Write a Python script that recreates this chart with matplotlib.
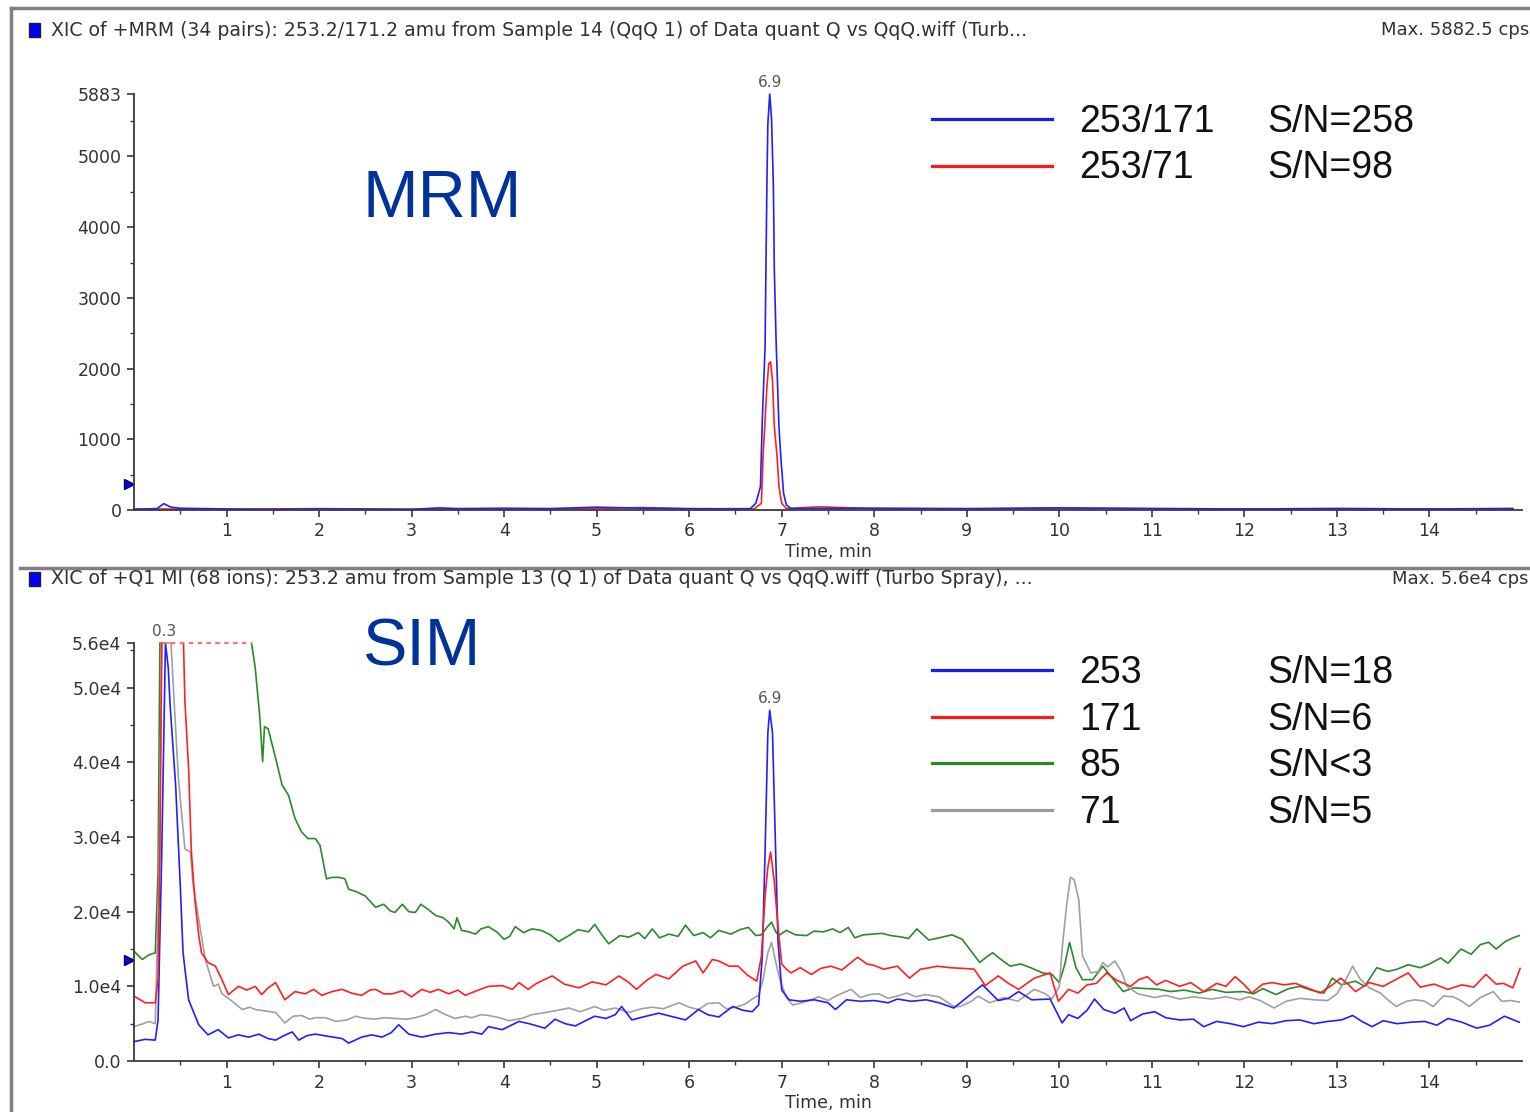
import numpy as np
import matplotlib
matplotlib.use("Agg")
import matplotlib.pyplot as plt
from matplotlib.lines import Line2D
from matplotlib.patches import Rectangle

nan = np.nan

# --- MRM panel (top) ---
mrm_blue_t = [0.0, 0.25, 0.32, 0.4, 0.5, 1.0, 1.5, 2.0, 3.0, 3.3, 3.5, 4.0, 4.5, 5.0,
              5.5, 6.0, 6.5, 6.66, 6.72, 6.77, 6.79, 6.82, 6.83, 6.84, 6.85, 6.87,
              6.89, 6.91, 6.92, 6.94, 6.97, 6.99, 7.02, 7.05, 7.1, 8.0, 9.0, 10.0,
              11.0, 12.0, 13.0, 14.0, 14.9]
mrm_blue_v = [10, 20, 90, 40, 25, 15, 10, 15, 10, 30, 20, 25, 20, 40,
              25, 20, 15, 20, 94, 330, 1270, 2306, 3506, 4635, 5459, 5883,
              5530, 4565, 3388, 2353, 1177, 753, 235, 71, 20, 25, 20, 30,
              20, 15, 20, 15, 20]
mrm_red_t = [0.0, 1.0, 2.0, 3.0, 4.0, 5.0, 5.5, 6.0, 6.5, 6.7, 6.78, 6.8, 6.82,
             6.84, 6.86, 6.88, 6.9, 6.92, 6.95, 6.97, 7.0, 7.05, 7.4, 8.0, 9.0,
             10.0, 11.0, 12.0, 13.0, 14.0, 14.9]
mrm_red_v = [15, 10, 20, 10, 15, 20, 35, 15, 20, 15, 94, 800, 1270,
             1741, 2071, 2094, 1835, 1177, 753, 330, 94, 20, 45, 20, 15,
             25, 20, 15, 20, 15, 20]
mrm_yticks = [0, 1000, 2000, 3000, 4000, 5000, 5883]
mrm_threshold = 367
mrm_peak = (6.87, 5883, "6.9")

# --- SIM panel (bottom) ---
sim_blue_t = [0.0, 0.12, 0.23, 0.26, 0.30, 0.34, 0.37, 0.39, 0.45, 0.50, 0.53, 0.59,
              0.70, 0.80, 0.91, 1.02, 1.13, 1.24, 1.35, 1.45, 1.53, 1.62, 1.71, 1.78,
              1.87, 1.96, 2.10, 2.25, 2.32, 2.46, 2.57, 2.68, 2.78, 2.86, 2.97, 3.11,
              3.26, 3.40, 3.54, 3.65, 3.76, 3.83, 3.98, 4.16, 4.27, 4.44, 4.55, 4.66,
              4.77, 4.88, 4.98, 5.10, 5.20, 5.27, 5.38, 5.50, 5.67, 5.80, 5.96, 6.10,
              6.20, 6.32, 6.47, 6.58, 6.68, 6.75, 6.79, 6.82, 6.85, 6.87, 6.90, 6.93,
              6.96, 7.00, 7.08, 7.20, 7.35, 7.50, 7.58, 7.70, 7.85, 8.00, 8.15, 8.25,
              8.40, 8.56, 8.70, 8.86, 9.00, 9.17, 9.34, 9.45, 9.56, 9.70, 9.90, 10.03,
              10.10, 10.20, 10.30, 10.38, 10.48, 10.60, 10.70, 10.77, 10.90, 11.03,
              11.15, 11.30, 11.45, 11.56, 11.70, 11.85, 11.99, 12.15, 12.30, 12.45,
              12.60, 12.75, 12.90, 13.05, 13.17, 13.27, 13.38, 13.50, 13.65, 13.80,
              13.95, 14.08, 14.20, 14.35, 14.51, 14.65, 14.81, 14.97]
sim_blue_v = [2600, 2900, 2800, 5500, 28000, 56000, 52700, 47700, 36900, 23500, 14500, 8200,
              4850, 3500, 4200, 3100, 3500, 3200, 3600, 3000, 2800, 3400, 3900, 2800,
              3400, 3600, 3300, 3000, 2400, 3200, 3500, 3200, 3800, 4850, 3600, 3200,
              3600, 3800, 3600, 3900, 3600, 4600, 4200, 5300, 5000, 4400, 5600, 5000,
              4700, 5400, 6000, 5700, 6200, 7300, 5500, 5900, 6400, 6000, 5500, 6900,
              6200, 5900, 7300, 6800, 6600, 7500, 14000, 28000, 44000, 47000, 44000, 30000,
              16000, 9500, 8200, 8000, 8200, 7800, 6900, 8200, 8000, 8100, 7800, 8300,
              8000, 8200, 7800, 7100, 8500, 10200, 8100, 8400, 9300, 8200, 8300, 5100,
              6200, 5700, 6800, 8300, 6900, 6400, 7100, 5400, 6300, 6600,
              5800, 5500, 5600, 4600, 5300, 5000, 4600, 5200, 5000, 5400,
              5500, 5000, 5300, 5500, 6100, 5300, 4600, 5400, 5000, 5200,
              5300, 4800, 5700, 5200, 4400, 4800, 6000, 5200]

sim_red_t = [0.0, 0.12, 0.23, 0.26, 0.28, 0.30, 0.40, 0.535, 0.55, 0.59, 0.62, 0.66,
             0.70, 0.73, 0.80, 0.88, 0.95, 1.02, 1.13, 1.22, 1.31, 1.38, 1.45, 1.53,
             1.63, 1.74, 1.85, 1.94, 2.03, 2.14, 2.25, 2.35, 2.46, 2.55, 2.61, 2.70,
             2.79, 2.90, 3.00, 3.11, 3.20, 3.29, 3.40, 3.50, 3.58, 3.70, 3.83, 3.98,
             4.09, 4.16, 4.26, 4.35, 4.52, 4.65, 4.81, 4.95, 5.10, 5.24, 5.35, 5.43,
             5.54, 5.64, 5.78, 5.93, 6.07, 6.15, 6.25, 6.32, 6.43, 6.53, 6.63, 6.73,
             6.78, 6.82, 6.85, 6.88, 6.92, 6.96, 7.00, 7.05, 7.10, 7.20, 7.32, 7.42,
             7.53, 7.65, 7.82, 7.92, 8.00, 8.10, 8.25, 8.38, 8.50, 8.60, 8.68, 8.82,
             8.97, 9.08, 9.20, 9.34, 9.45, 9.56, 9.73, 9.90, 9.99, 10.10, 10.20, 10.30,
             10.40, 10.51, 10.62, 10.77, 10.86, 10.95, 11.05, 11.15, 11.30, 11.42, 11.56,
             11.70, 11.80, 11.90, 12.00, 12.08, 12.20, 12.30, 12.43, 12.55, 12.70, 12.82,
             12.95, 13.04, 13.12, 13.20, 13.35, 13.50, 13.62, 13.77, 13.90, 14.05, 14.20,
             14.35, 14.48, 14.61, 14.72, 14.80, 14.90, 14.98]
sim_red_v = [8700, 7800, 7800, 11100, 28000, 56000, nan, 56000, 48200, 39200, 28000, 21300,
             16800, 14500, 13200, 12700, 10900, 8900, 10000, 9500, 10000, 8900, 9800, 10500,
             8200, 9300, 9000, 9600, 8800, 9300, 9600, 9100, 8800, 9500, 9600, 9000,
             9000, 9400, 8600, 9600, 9200, 9600, 9000, 9500, 8800, 9400, 10000, 10100,
             9600, 10500, 9600, 10400, 11400, 10300, 9800, 10600, 10200, 11400, 10500, 9600,
             10800, 11600, 11000, 12700, 13400, 11800, 13600, 13400, 12700, 12700, 11500, 10700,
             14000, 22000, 26000, 28000, 24000, 18000, 13000, 12300, 11800, 12500, 11600, 12400,
             12700, 12200, 13900, 13000, 12800, 12300, 12700, 11100, 12300, 12500, 12700, 12500,
             12400, 12300, 10100, 11400, 10400, 9600, 11100, 11800, 8000, 9600, 9100, 10200,
             10400, 11800, 10800, 10000, 10900, 11300, 10200, 10800, 10000, 10500, 9300,
             10400, 10000, 11300, 10200, 9100, 10300, 10500, 10200, 10400, 9700, 9100,
             10200, 11100, 10300, 9300, 10500, 10000, 10800, 11800, 9900, 10300, 9600,
             10200, 9900, 11600, 10300, 10400, 9800, 12400]

sim_green_t = [0.0, 0.09, 0.16, 0.23, 0.26, 0.28, 0.80, 1.27, 1.31, 1.36, 1.39, 1.41,
               1.45, 1.53, 1.60, 1.67, 1.74, 1.81, 1.88, 1.96, 2.01, 2.08, 2.14, 2.22,
               2.28, 2.32, 2.40, 2.50, 2.61, 2.70, 2.77, 2.82, 2.90, 2.97, 3.04, 3.10,
               3.18, 3.26, 3.34, 3.40, 3.46, 3.49, 3.54, 3.62, 3.69, 3.75, 3.83, 3.92,
               4.00, 4.06, 4.12, 4.21, 4.30, 4.40, 4.50, 4.59, 4.70, 4.80, 4.91, 4.98,
               5.05, 5.13, 5.25, 5.35, 5.45, 5.52, 5.60, 5.68, 5.78, 5.88, 5.96, 6.05,
               6.15, 6.23, 6.32, 6.45, 6.55, 6.64, 6.72, 6.78, 6.84, 6.89, 6.94, 6.98,
               7.05, 7.15, 7.27, 7.35, 7.45, 7.55, 7.63, 7.72, 7.79, 7.88, 7.98, 8.08,
               8.18, 8.30, 8.37, 8.46, 8.59, 8.70, 8.84, 8.95, 9.03, 9.14, 9.22, 9.28,
               9.38, 9.47, 9.58, 9.69, 9.82, 9.92, 10.00, 10.06, 10.11, 10.18, 10.25,
               10.36, 10.47, 10.58, 10.69, 10.80, 10.95, 11.08, 11.20, 11.35, 11.51,
               11.65, 11.80, 11.99, 12.10, 12.20, 12.34, 12.48, 12.60, 12.72, 12.86,
               12.95, 13.05, 13.20, 13.30, 13.43, 13.55, 13.65, 13.77, 13.90, 14.00,
               14.12, 14.20, 14.34, 14.45, 14.55, 14.64, 14.72, 14.82, 14.90, 14.97]
sim_green_v = [14700, 13600, 14200, 14500, 25300, 56000, nan, 56000, 52700, 46000, 40100, 44800,
               44500, 40600, 37000, 35600, 32500, 30700, 29800, 29800, 28900, 24400, 24600, 24600,
               24400, 23000, 22700, 22100, 20600, 21000, 20100, 19900, 21000, 20000, 19900, 21000,
               20300, 19500, 19200, 18600, 17700, 19200, 17500, 17300, 17000, 17700, 18000, 17300,
               16300, 16700, 18000, 17200, 17700, 17500, 16900, 16000, 16800, 17600, 17300, 18300,
               17000, 15700, 16800, 16600, 17200, 16400, 17700, 16500, 17000, 16700, 18200, 16800,
               17200, 16500, 17500, 17000, 17600, 17900, 16800, 16900, 17900, 18600, 17200, 16900,
               17500, 16900, 16800, 17400, 17300, 17700, 17200, 17900, 16500, 16900, 17000, 17100,
               16800, 16600, 16400, 17700, 16200, 16500, 16900, 16300, 15000, 13200, 14000, 14500,
               13500, 12700, 13000, 12500, 11800, 11600, 10500, 13000, 15900, 12500, 10900,
               10900, 12700, 11000, 9300, 9800, 9700, 9600, 9300, 9500, 9100,
               9600, 9200, 9300, 9000, 9700, 8900, 9700, 10000, 9500, 9100,
               11100, 10200, 10700, 10000, 12500, 12000, 12300, 12900, 12500, 13000,
               13800, 13100, 15000, 14300, 15600, 15900, 15000, 16000, 16500, 16800]

sim_gray_t = [0.0, 0.10, 0.16, 0.23, 0.27, 0.30, 0.40, 0.43, 0.48, 0.52, 0.55, 0.61,
              0.64, 0.70, 0.77, 0.86, 0.91, 0.95, 1.02, 1.10, 1.17, 1.25, 1.31, 1.42,
              1.53, 1.63, 1.72, 1.81, 1.90, 1.96, 2.07, 2.18, 2.30, 2.40, 2.46, 2.60,
              2.70, 2.82, 2.95, 3.04, 3.15, 3.26, 3.35, 3.47, 3.58, 3.65, 3.75, 3.83,
              3.95, 4.05, 4.19, 4.30, 4.45, 4.58, 4.70, 4.82, 4.98, 5.08, 5.20, 5.35,
              5.48, 5.60, 5.72, 5.89, 6.00, 6.10, 6.20, 6.32, 6.40, 6.50, 6.60, 6.68,
              6.75, 6.80, 6.85, 6.89, 6.94, 6.98, 7.05, 7.12, 7.25, 7.40, 7.50, 7.60,
              7.75, 7.85, 7.95, 8.05, 8.15, 8.25, 8.35, 8.45, 8.55, 8.70, 8.86, 8.93,
              9.05, 9.12, 9.25, 9.40, 9.55, 9.73, 9.85, 9.92, 10.00, 10.03, 10.08, 10.12,
              10.16, 10.21, 10.25, 10.34, 10.42, 10.47, 10.52, 10.60, 10.67, 10.73, 10.85,
              11.03, 11.15, 11.30, 11.45, 11.64, 11.80, 11.95, 12.05, 12.17, 12.32, 12.45,
              12.60, 12.75, 12.90, 13.00, 13.10, 13.17, 13.25, 13.35, 13.47, 13.55, 13.64,
              13.75, 13.85, 13.95, 14.04, 14.15, 14.26, 14.35, 14.43, 14.55, 14.69, 14.78,
              14.88, 14.97]
sim_gray_v = [4600, 5000, 5300, 5000, 25000, 56000, 56000, 49000, 37900, 32500, 28400, 28000,
              23500, 19000, 13600, 10000, 10300, 9000, 8400, 7600, 6900, 7200, 6900, 6700,
              6500, 5100, 6000, 6100, 5600, 5800, 5800, 5300, 5500, 6000, 5800, 5600,
              5800, 5700, 5600, 5800, 6200, 6900, 6300, 5700, 6000, 5800, 6200, 6100,
              5800, 5400, 5700, 6200, 6500, 6800, 7100, 6600, 7300, 6800, 7100, 6500,
              7000, 7200, 7000, 7800, 7200, 6900, 7700, 7800, 7000, 7200, 7600, 8300,
              8800, 11000, 14500, 15900, 13000, 10900, 8500, 7500, 7900, 8600, 8100, 8800,
              9600, 8500, 8900, 9000, 8400, 8700, 9100, 8600, 8900, 8600, 7300, 7300,
              8000, 8700, 7800, 8500, 8000, 9600, 9000, 8300, 10000, 15000, 21000, 24600,
              24300, 21600, 14100, 11800, 12000, 13200, 12600, 13400, 12000, 10000, 9000,
              8500, 8800, 8300, 8600, 8300, 8600, 8200, 8600, 8100, 7100, 8000,
              8400, 8200, 8100, 9000, 11000, 12700, 11000, 9800, 9100, 8200, 7300,
              8000, 8200, 8000, 7300, 8700, 8600, 8000, 7300, 8500, 9300, 8000,
              8100, 7900]

sim_yticks = [0, 10000, 20000, 30000, 40000, 50000, 56000]
sim_ytick_labels = ["0.0", "1.0e4", "2.0e4", "3.0e4", "4.0e4", "5.0e4", "5.6e4"]
sim_threshold = 13500
sim_sat = (0.30, 1.27, 56000)
sim_peaks = [(6.87, 47000, "6.9"), (0.33, 56000, "0.3")]

mrm_legend = [("253/171", "S/N=258", "#1a1aff"), ("253/71", "S/N=98", "#ff1a1a")]
sim_legend = [("253", "S/N=18", "#1a1aff"), ("171", "S/N=6", "#ff1a1a"),
              ("85", "S/N<3", "#2a8a2a"), ("71", "S/N=5", "#9a9a9a")]

W, H = 1530, 1112
def fx(px):
    return px / W
def fy(py):
    return 1 - py / H

txt = "#333333"
plt.rcParams['font.family'] = ['DejaVu Sans']

fig = plt.figure(figsize=(W / 100, H / 100), dpi=100)
ax1 = fig.add_axes([fx(134), fy(510), (1522 - 134) / W, (510 - 94) / H])
ax2 = fig.add_axes([fx(134), fy(1061), (1522 - 134) / W, (1061 - 643) / H])

def style_axis(ax, yticks, ylabels, yminor):
    ax.set_xlim(0, 15.0)
    ax.set_ylim(yticks[0], yticks[-1])
    for s in ["top", "right"]:
        ax.spines[s].set_visible(False)
    for s in ["left", "bottom"]:
        ax.spines[s].set_color("#3a3a3a")
        ax.spines[s].set_linewidth(1.3)
    ax.set_xticks(range(1, 15))
    ax.set_xticks(np.arange(0.5, 15, 0.5), minor=True)
    ax.set_yticks(yticks)
    ax.set_yticklabels(ylabels)
    ax.set_yticks(yminor, minor=True)
    ax.tick_params(which="major", length=5, width=1.2, color="#3a3a3a",
                   labelsize=12.5, labelcolor=txt, pad=4)
    ax.tick_params(which="minor", length=3, width=1.0, color="#3a3a3a")
    ax.set_xlabel("Time, min", fontsize=12.5, color=txt, labelpad=2)

# top panel
ax1.plot(mrm_red_t, mrm_red_v, color="#ff2020", lw=1.2, clip_on=False)
ax1.plot(mrm_blue_t, mrm_blue_v, color="#2020ff", lw=1.2, clip_on=False)
style_axis(ax1, mrm_yticks, [str(v) for v in mrm_yticks], np.arange(500, 5883, 1000))
ax1.plot([-0.05], [mrm_threshold], marker=">", ms=7, color="#0000ff", mec="#000040",
         clip_on=False)
ax1.annotate(mrm_peak[2], (mrm_peak[0], mrm_peak[1]), xytext=(0, 3),
             textcoords="offset points", ha="center", va="bottom", fontsize=11, color="#555")

# bottom panel
ax2.plot(sim_green_t, sim_green_v, color="#2a8a2a", lw=1.2, clip_on=False)
ax2.plot(sim_gray_t, sim_gray_v, color="#a0a0a0", lw=1.2, clip_on=False)
ax2.plot(sim_blue_t, sim_blue_v, color="#2020ff", lw=1.2, clip_on=False)
ax2.plot(sim_red_t, sim_red_v, color="#ff2020", lw=1.2, clip_on=False)
ax2.hlines(sim_sat[2], sim_sat[0], sim_sat[1], colors="#ff7070", lw=1.6,
           linestyles=(0, (2, 2)), clip_on=False)
style_axis(ax2, sim_yticks, sim_ytick_labels, np.arange(5000, 56000, 10000))
ax2.plot([-0.05], [sim_threshold], marker=">", ms=7, color="#0000ff", mec="#000040",
         clip_on=False)
for t, v, lab in sim_peaks:
    ax2.annotate(lab, (t, v), xytext=(0, 3), textcoords="offset points",
                 ha="center", va="bottom", fontsize=11, color="#555")

# frame lines and headers
fig.add_artist(Line2D([fx(11), 1], [fy(8), fy(8)], color="#808080", lw=2.5))
fig.add_artist(Line2D([fx(11), fx(11)], [fy(8), 0], color="#808080", lw=2.5))
fig.add_artist(Line2D([fx(20), 1], [fy(568), fy(568)], color="#808080", lw=2.5))

headers = [
    (30, "XIC of +MRM (34 pairs): 253.2/171.2 amu from Sample 14 (QqQ 1) of Data quant Q vs QqQ.wiff (Turb...",
     "Max. 5882.5 cps"),
    (579, "XIC of +Q1 MI (68 ions): 253.2 amu from Sample 13 (Q 1) of Data quant Q vs QqQ.wiff (Turbo Spray), ...",
     "Max. 5.6e4 cps"),
]
for py, left, right in headers:
    fig.add_artist(Rectangle((fx(29), fy(py + 7)), 11 / W, 14 / H, facecolor="#0000ff",
                             edgecolor="#202020", lw=1))
    fig.text(fx(51), fy(py), left, fontsize=13.6, color=txt, va="center", ha="left")
    fig.text(fx(1529), fy(py), right, fontsize=13, color=txt, va="center", ha="right")

# big labels
fig.text(fx(362), fy(217), "MRM", fontsize=48, color="#003399", family="Liberation Sans",
         va="baseline")
fig.text(fx(362), fy(665), "SIM", fontsize=48, color="#003399", family="Liberation Sans",
         va="baseline")

# legends
def draw_legend(entries, y0, dy):
    for i, (ion, sn, col) in enumerate(entries):
        y = y0 + i * dy
        fig.add_artist(Line2D([fx(932), fx(1052)], [fy(y), fy(y)], color=col, lw=2.3))
        fig.text(fx(1079), fy(y + 3), ion, fontsize=27, family="Liberation Sans",
                 color="#111", va="center")
        fig.text(fx(1267), fy(y + 3), sn, fontsize=27, family="Liberation Sans",
                 color="#111", va="center")

draw_legend(mrm_legend, 119, 46.5)
draw_legend(sim_legend, 670, 46.7)

fig.savefig("out.png", dpi=100, facecolor="white")
